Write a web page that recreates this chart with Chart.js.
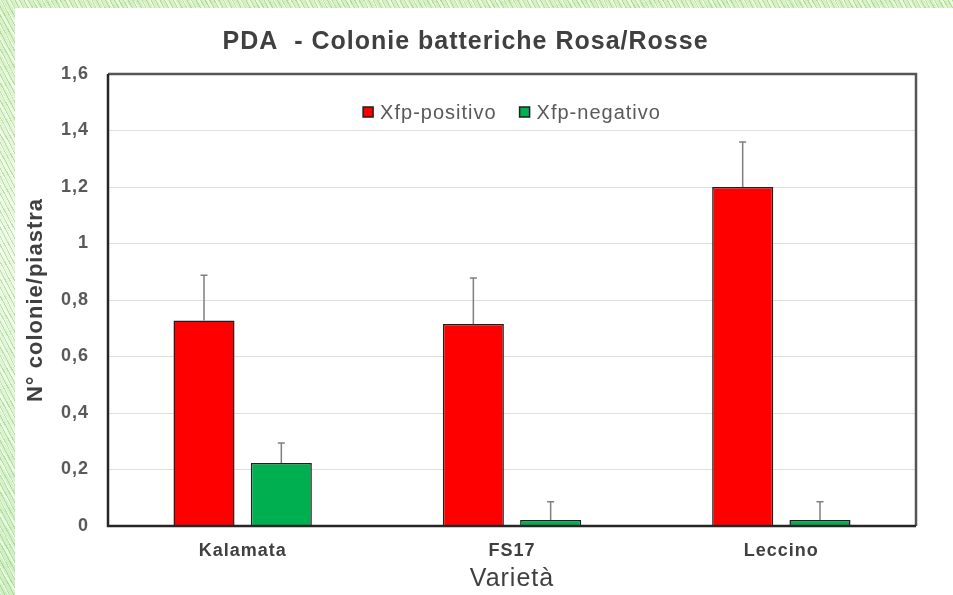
<!DOCTYPE html>
<html>
<head>
<meta charset="utf-8">
<script src="https://cdn.jsdelivr.net/npm/chart.js@4/dist/chart.umd.min.js"></script>
<style>
  html, body { margin: 0; padding: 0; }
  body {
    width: 953px; height: 595px; overflow: hidden; position: relative;
    background-color: #e6f4d6;
    background-image:
      repeating-linear-gradient(62deg, rgba(120,200,110,0.45) 0 1px, transparent 1px 4px),
      repeating-linear-gradient(58deg, rgba(255,255,255,0.55) 0 2px, transparent 2px 7px),
      linear-gradient(180deg, #d9f0c4 0%, #eef8e2 40%, #cfeec0 100%);
  }
  #panel {
    position: absolute; left: 15px; top: 8px; width: 938px; height: 587px;
    background: #ffffff;
  }
  canvas { display: block; }
</style>
</head>
<body>
<div id="panel"><canvas id="chart" width="938" height="587"></canvas></div>
<script>
// Categories, series and their upward error bars
const categories = ['Kalamata', 'FS17', 'Leccino'];
const positivo = [0.727, 0.715, 1.20];
const negativo = [0.223, 0.021, 0.021];
const errPositivo = [0.161, 0.163, 0.159];
const errNegativo = [0.071, 0.065, 0.065];
const yTickLabels = ['0', '0,2', '0,4', '0,6', '0,8', '1', '1,2', '1,4', '1,6'];

const FONT = "'Liberation Sans', Arial, sans-serif";
const SPACING = '1px';

// Slightly tracked-out lettering for every label on the canvas
const tracking = {
  id: 'tracking',
  beforeUpdate(chart) { chart.ctx.letterSpacing = SPACING; },
  beforeLayout(chart) { chart.ctx.letterSpacing = SPACING; },
  beforeDraw(chart) { chart.ctx.letterSpacing = SPACING; }
};

// Upward error bars with a small cap on each bar
const errorBars = {
  id: 'errorBars',
  afterDatasetsDraw(chart) {
    const ctx = chart.ctx;
    const y = chart.scales.y;
    chart.data.datasets.forEach((ds, i) => {
      const meta = chart.getDatasetMeta(i);
      meta.data.forEach((bar, j) => {
        const top = y.getPixelForValue(ds.data[j] + ds.errors[j]);
        ctx.save();
        ctx.strokeStyle = '#7f7f7f';
        ctx.lineWidth = 1.5;
        ctx.beginPath();
        ctx.moveTo(bar.x, bar.y);
        ctx.lineTo(bar.x, top);
        ctx.moveTo(bar.x - 3.5, top);
        ctx.lineTo(bar.x + 3.5, top);
        ctx.stroke();
        ctx.restore();
      });
    });
  }
};

// Legend row drawn inside the top of the plot area
const innerLegend = {
  id: 'innerLegend',
  afterDatasetsDraw(chart) {
    const ctx = chart.ctx;
    const a = chart.chartArea;
    const box = 10, gapText = 7, gapItem = 23;
    ctx.save();
    ctx.letterSpacing = SPACING;
    ctx.font = "20px " + FONT;
    ctx.textBaseline = 'middle';
    ctx.textAlign = 'left';
    const items = chart.data.datasets.map(ds => ({
      ds, w: box + gapText + ctx.measureText(ds.label).width
    }));
    const total = items.reduce((s, it) => s + it.w, 0) + gapItem * (items.length - 1);
    let x = (a.left + a.right) / 2 - total / 2;
    const cy = a.top + 38;
    items.forEach(it => {
      ctx.fillStyle = it.ds.backgroundColor;
      ctx.fillRect(x, cy - box / 2, box, box);
      ctx.strokeStyle = '#1f1f1f';
      ctx.lineWidth = 1.5;
      ctx.strokeRect(x, cy - box / 2, box, box);
      ctx.fillStyle = '#595959';
      ctx.fillText(it.ds.label, x + box + gapText, cy + 1);
      x += it.w + gapItem;
    });
    ctx.restore();
  }
};

// Frame around the plot area
const plotFrame = {
  id: 'plotFrame',
  afterDraw(chart) {
    const a = chart.chartArea;
    const ctx = chart.ctx;
    ctx.save();
    ctx.lineWidth = 2.5;
    ctx.strokeStyle = '#555555';
    ctx.beginPath();
    ctx.moveTo(a.left, a.top);
    ctx.lineTo(a.right, a.top);
    ctx.lineTo(a.right, a.bottom);
    ctx.stroke();
    ctx.strokeStyle = '#262626';
    ctx.beginPath();
    ctx.moveTo(a.left, a.top);
    ctx.lineTo(a.left, a.bottom);
    ctx.lineTo(a.right, a.bottom);
    ctx.stroke();
    ctx.restore();
  }
};

new Chart(document.getElementById('chart'), {
  type: 'bar',
  data: {
    labels: categories,
    datasets: [
      { label: 'Xfp-positivo', data: positivo, errors: errPositivo,
        backgroundColor: '#ff0000', borderColor: '#1f1f1f', borderWidth: 1.5 },
      { label: 'Xfp-negativo', data: negativo, errors: errNegativo,
        backgroundColor: '#00b050', borderColor: '#1f1f1f', borderWidth: 1.5 }
    ]
  },
  options: {
    responsive: false,
    animation: false,
    devicePixelRatio: 1,
    layout: { padding: { left: 0, right: 37, top: 0, bottom: 0 } },
    datasets: { bar: { categoryPercentage: 0.574, barPercentage: 0.79 } },
    plugins: {
      title: {
        display: true,
        text: 'PDA  - Colonie batteriche Rosa/Rosse',
        color: '#404040',
        font: { family: FONT, size: 25, weight: 'bold' },
        padding: { top: 19, bottom: 17 }
      },
      legend: { display: false },
      tooltip: { enabled: false }
    },
    scales: {
      x: {
        grid: { display: false, drawTicks: false },
        border: { display: false },
        ticks: { color: '#404040', font: { family: FONT, size: 18, weight: 'bold' }, padding: 14 },
        title: { display: true, text: 'Varietà', color: '#404040',
                 font: { family: FONT, size: 25 }, padding: { top: 0, bottom: 1 } },
        afterFit(s) { s.height = 69; }
      },
      y: {
        min: 0, max: 1.6,
        grid: { color: '#dedede', lineWidth: 1, drawTicks: false },
        border: { display: false },
        ticks: {
          stepSize: 0.2,
          color: '#595959',
          padding: 19,
          font: { family: FONT, size: 18, weight: 'bold' },
          callback: (v, i) => yTickLabels[i]
        },
        title: { display: true, text: 'N° colonie/piastra', color: '#404040',
                 font: { family: FONT, size: 22, weight: 'bold' }, padding: { top: 8, bottom: 0 } },
        afterFit(s) { s.width = 93; }
      }
    }
  },
  plugins: [tracking, errorBars, innerLegend, plotFrame]
});
</script>
</body>
</html>
